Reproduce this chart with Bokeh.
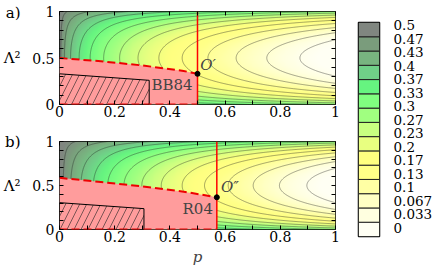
import numpy as np
from bokeh.plotting import figure
from bokeh.layouts import row, column
from bokeh.models import Range1d, LinearAxis, FixedTicker, Label, LinearColorMapper
from bokeh.embed import file_html
from bokeh.resources import INLINE

# ---------------- data ----------------
levels = [i / 30 for i in range(16)]
level_labels = ["0", "0.033", "0.067", "0.1", "0.13", "0.17", "0.2", "0.23",
                "0.27", "0.3", "0.33", "0.37", "0.4", "0.43", "0.47", "0.5"]
band_colors = ["#fffff4", "#ffffe0", "#ffffc4", "#ffffa4", "#ffff88", "#ffff80",
               "#e8ff80", "#c8ff80", "#a0ff80", "#80ff80", "#66f480", "#70d088",
               "#78b480", "#7a9c7c", "#808680"]

x_ticks = [0, 0.2, 0.4, 0.6, 0.8, 1]
x_tick_labels = ["0", "0.2", "0.4", "0.6", "0.8", "1"]
x_minor = [0.1, 0.3, 0.5, 0.7, 0.9]
x_all = [0, 0.1, 0.2, 0.3, 0.4, 0.5, 0.6, 0.7, 0.8, 0.9, 1]
y_ticks = [0, 0.5, 1]
y_tick_labels = ["0", "0.5", "1"]
y_minor = [0.1, 0.2, 0.3, 0.4, 0.6, 0.7, 0.8, 0.9]
y_all = [0.1, 0.2, 0.3, 0.4, 0.5, 0.6, 0.7, 0.8, 0.9]
y_title = "Λ²"

# panel a (BB84)
a_tag = "a)"
a_tag_y = 0.984
a_bound_p = [0, 0.15, 0.3, 0.45, 0.5]
a_bound_L = [0.5, 0.465, 0.42, 0.36, 0.33]
a_hatch_p = [0, 0, 0.325, 0.325]
a_hatch_L = [0, 0.33, 0.26, 0]
a_point = [0.5, 0.33]
a_exponent = 0.5

# panel b (R04)
b_tag = "b)"
b_tag_y = 0.99
b_bound_p = [0, 0.15, 0.3, 0.45, 0.57]
b_bound_L = [0.587, 0.54, 0.49, 0.43, 0.366]
b_hatch_p = [0, 0, 0.306, 0.306]
b_hatch_L = [0, 0.305, 0.237, 0]
b_point = [0.57, 0.366]
b_exponent = 0.63

edge_factor = 0.4

FONT = "DejaVu Serif"

# smooth palette from band colours
def hex2rgb(h):
    return [int(h[i:i + 2], 16) for i in (1, 3, 5)]
centers = [(levels[i] + levels[i + 1]) / 2 for i in range(15)]
rgb = np.array([hex2rgb(c) for c in band_colors], dtype=float)
vals = np.linspace(0, 0.5, 256)
pal = []
for v in vals:
    r, g, b = [np.interp(v, centers, rgb[:, k]) for k in range(3)]
    pal.append("#%02x%02x%02x" % (int(round(r)), int(round(g)), int(round(b))))
mapper = LinearColorMapper(palette=pal, low=0, high=0.5)


def field(expo):
    px = np.linspace(0, 1, 301)
    Ly = np.linspace(0, 1, 201)
    P, L = np.meshgrid(px, Ly)
    Z = 0.5 * (1 - P ** expo * np.sqrt(1 - (1 - edge_factor ** 2) * (2 * L - 1) ** 2))
    return px, Ly, Z


def style_axis(ax):
    ax.major_tick_in = 4
    ax.major_tick_out = 0
    ax.minor_tick_in = 4
    ax.minor_tick_out = 0
    ax.major_tick_line_color = "black"
    ax.minor_tick_line_color = "black"
    ax.axis_line_color = None
    ax.major_label_text_font = FONT
    ax.major_label_text_color = "black"
    ax.major_label_text_font_size = "14px"


def make_panel(h, bt, bb, expo, bp, bL, hp, hL, pt, tag, tag_y, ptxt, ptxt_xy, rtxt, rtxt_xy, xlabel):
    p = figure(width=343, height=h, x_range=Range1d(0, 1), y_range=Range1d(0, 1),
               output_backend="svg", toolbar_location=None,
               min_border_left=58, min_border_right=8, min_border_top=bt, min_border_bottom=bb)
    p.grid.visible = False
    p.outline_line_color = "black"
    p.outline_line_width = 1
    p.background_fill_color = "white"
    p.border_fill_color = "white"

    px, Ly, Z = field(expo)
    p.image(image=[Z], x=0, y=0, dw=1, dh=1, color_mapper=mapper)
    p.contour(x=px, y=Ly, z=Z, levels=levels[1:-1], line_color="#222222",
              line_alpha=0.5, line_width=0.8)

    p.patch(x=[0] + bp + [bp[-1]], y=[0] + bL + [0], fill_color="#ff9c9c", line_color=None)
    p.patch(x=hp, y=hL, fill_color=None, line_color="black", line_width=1,
            hatch_pattern="/", hatch_color="#222222", hatch_weight=0.6, hatch_scale=14)
    p.line(bp, bL, line_color="#ee0000", line_width=2, line_dash="8 4")
    p.line([0, bp[-1]], [0, 0], line_color="#ee0000", line_width=2, line_dash="8 4")
    p.line([pt[0], pt[0]], [0, 1], line_color="red", line_width=1.5)
    p.scatter([pt[0]], [pt[1]], size=5, color="black")

    xa = p.xaxis[0]
    xa.ticker = FixedTicker(ticks=x_ticks, minor_ticks=x_minor)
    xa.major_label_overrides = dict(zip(x_ticks, x_tick_labels))
    style_axis(xa)
    xa.major_label_standoff = 1
    if xlabel:
        xa.axis_label = "p"
        xa.axis_label_text_font = FONT
        xa.axis_label_text_font_style = "italic"
        xa.axis_label_text_font_size = "15px"
        xa.axis_label_standoff = 3

    ya = p.yaxis[0]
    ya.ticker = FixedTicker(ticks=y_ticks, minor_ticks=y_minor)
    ya.major_label_overrides = dict(zip(y_ticks, y_tick_labels))
    style_axis(ya)
    ya.major_label_standoff = 5

    # outer left axis carrying the panel tag and the Λ² title
    outer = LinearAxis(ticker=FixedTicker(ticks=[tag_y, 0.5], minor_ticks=[]))
    outer.major_label_overrides = {tag_y: tag, 0.5: y_title}
    outer.major_tick_in = 0
    outer.major_tick_out = 0
    outer.axis_line_color = None
    outer.major_label_standoff = 9
    outer.major_label_text_font = FONT
    outer.major_label_text_font_size = "15px"
    outer.major_label_text_color = "black"
    p.add_layout(outer, "left")

    top = LinearAxis(ticker=FixedTicker(ticks=[], minor_ticks=x_all))
    style_axis(top)
    p.add_layout(top, "above")
    right = LinearAxis(ticker=FixedTicker(ticks=[], minor_ticks=y_all))
    style_axis(right)
    p.add_layout(right, "right")

    p.add_layout(Label(x=ptxt_xy[0], y=ptxt_xy[1], text=ptxt, text_font=FONT,
                       text_font_style="italic", text_font_size="15px",
                       text_align="left", text_baseline="middle"))
    p.add_layout(Label(x=rtxt_xy[0], y=rtxt_xy[1], text=rtxt, text_font=FONT,
                       text_font_size="15px", text_align="right", text_baseline="middle"))
    return p


pa = make_panel(130, 11, 26, a_exponent, a_bound_p, a_bound_L, a_hatch_p, a_hatch_L, a_point,
                a_tag, a_tag_y, "O′", [0.51, 0.425], "BB84", [0.482, 0.21], False)
pb = make_panel(140, 11, 41, b_exponent, b_bound_p, b_bound_L, b_hatch_p, b_hatch_L, b_point,
                b_tag, b_tag_y, "O″", [0.585, 0.48], "R04", [0.556, 0.233], True)

# colour bar
cb = figure(width=92, height=270, x_range=Range1d(0, 1), y_range=Range1d(0, 0.5),
            output_backend="svg", toolbar_location=None,
            x_axis_location=None, y_axis_location=None,
            min_border_left=15, min_border_right=56, min_border_top=22, min_border_bottom=34)
cb.grid.visible = False
cb.outline_line_color = "black"
cb.outline_line_width = 1.5
cb.quad(left=0, right=1, bottom=levels[:-1], top=levels[1:], fill_color=band_colors,
        line_color="#222222", line_width=1)
cb.extra_y_ranges = {"lab": Range1d(-0.644, 15.185)}
lab_ticks = list(range(16))
cax = LinearAxis(y_range_name="lab", ticker=FixedTicker(ticks=lab_ticks))
cax.major_label_overrides = dict(zip(lab_ticks, level_labels))
cax.major_tick_in = 0
cax.major_tick_out = 0
cax.minor_tick_in = 0
cax.minor_tick_out = 0
cax.axis_line_color = None
cax.major_label_standoff = 14
cax.major_label_text_font = FONT
cax.major_label_text_font_size = "13.5px"
cax.major_label_text_color = "black"
cb.add_layout(cax, "right")

layout = row(column(pa, pb), cb)
open("out.html", "w").write(file_html(layout, INLINE))
